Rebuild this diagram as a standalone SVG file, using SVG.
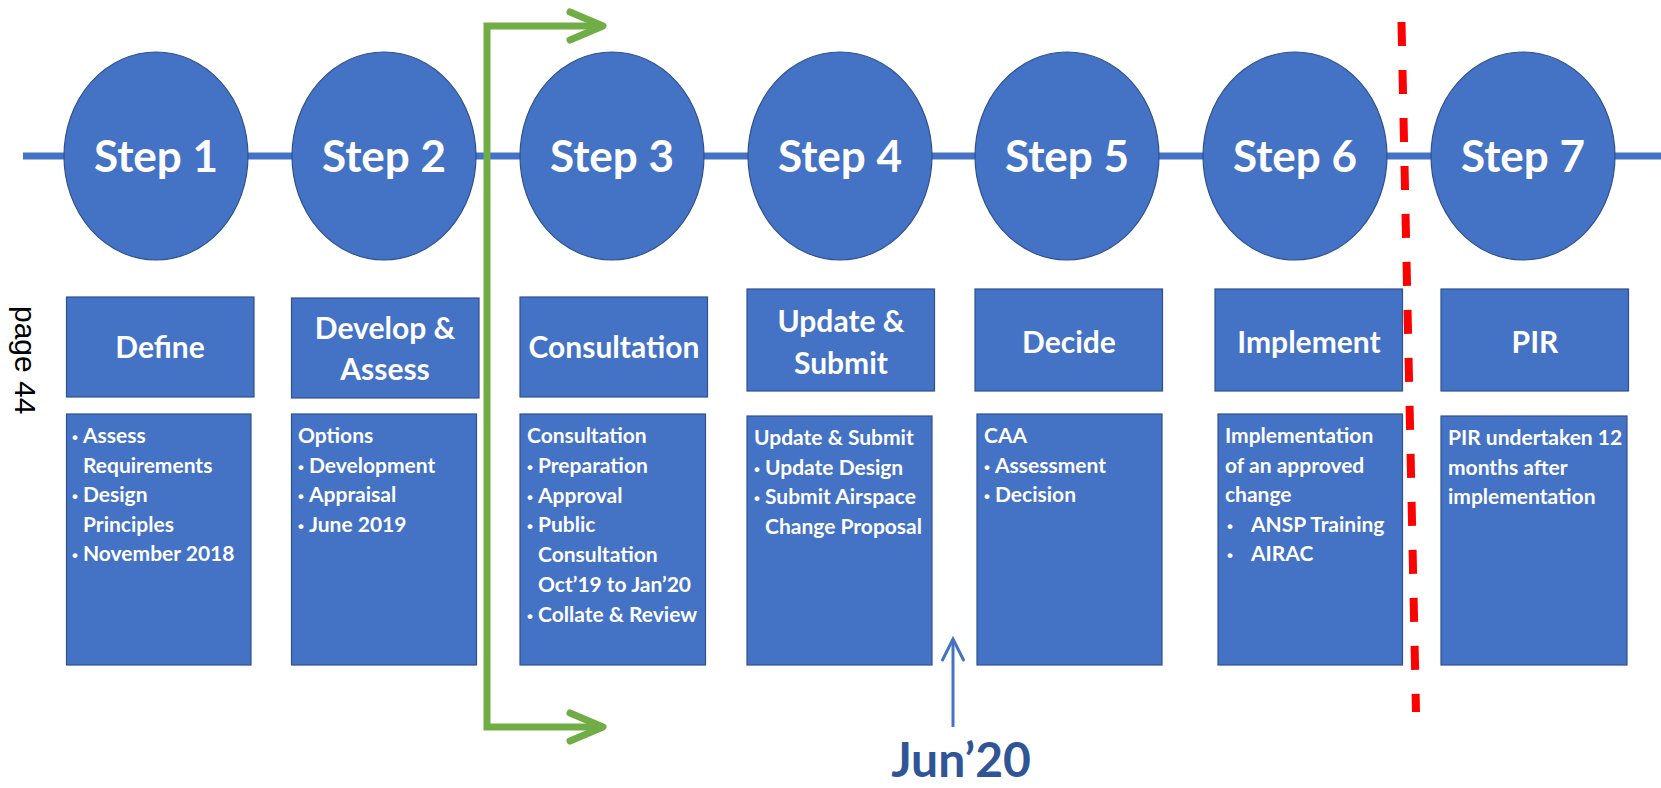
<svg xmlns="http://www.w3.org/2000/svg" width="1661" height="788" viewBox="0 0 1661 788">
<style>
.node{fill:#4472C4;stroke:#2F528F;stroke-width:1.2}
.step{font-family:Lato,"Liberation Sans",sans-serif;font-weight:bold;font-size:44px;fill:#fff;text-anchor:middle}
.title{font-family:Lato,"Liberation Sans",sans-serif;font-weight:bold;font-size:30px;fill:#fff;text-anchor:middle}
.det{font-family:Lato,"Liberation Sans",sans-serif;font-weight:bold;font-size:21px;fill:#fff}
.b{font-family:"Liberation Sans",Arial,sans-serif;font-size:17px;font-weight:bold}
.page{font-family:"Liberation Sans",Arial,sans-serif;font-size:30px;fill:#000}
.jun{font-family:Lato,"Liberation Sans",sans-serif;font-weight:bold;font-size:48px;fill:#2F5597;text-anchor:middle}
</style>
<defs>
<marker id="gArrow" markerUnits="userSpaceOnUse" viewBox="0 0 46 40" markerWidth="46" markerHeight="40" refX="35" refY="20" orient="auto-start-reverse" overflow="visible">
<path d="M5,6 L38,20 L5,34" fill="none" stroke="#70AD47" stroke-width="7" stroke-linecap="round" stroke-linejoin="round"/>
</marker>
<marker id="bArrow" markerUnits="userSpaceOnUse" viewBox="0 0 30 30" markerWidth="30" markerHeight="30" refX="24" refY="15" orient="auto" overflow="visible">
<path d="M3,4.5 L24,15 L3,25.5" fill="none" stroke="#4472C4" stroke-width="3" stroke-linecap="round"/>
</marker>
</defs>
<rect width="1661" height="788" fill="#fff"/>
<line x1="23" y1="156" x2="1661" y2="156" stroke="#4472C4" stroke-width="7"/>
<text class="page" transform="translate(15,306) rotate(90)">page 44</text>
<g id="step1"><ellipse class="node" cx="156" cy="156" rx="92" ry="104"/><text class="step" x="156" y="172">Step 1</text></g>
<g id="step2"><ellipse class="node" cx="384" cy="156" rx="92" ry="104"/><text class="step" x="384" y="172">Step 2</text></g>
<g id="step3"><ellipse class="node" cx="612" cy="156" rx="92" ry="104"/><text class="step" x="612" y="172">Step 3</text></g>
<g id="step4"><ellipse class="node" cx="840" cy="156" rx="92" ry="104"/><text class="step" x="840" y="172">Step 4</text></g>
<g id="step5"><ellipse class="node" cx="1067" cy="156" rx="92" ry="104"/><text class="step" x="1067" y="172">Step 5</text></g>
<g id="step6"><ellipse class="node" cx="1295" cy="156" rx="92" ry="104"/><text class="step" x="1295" y="172">Step 6</text></g>
<g id="step7"><ellipse class="node" cx="1523" cy="156" rx="92" ry="104"/><text class="step" x="1523" y="172">Step 7</text></g>

<g id="title1"><rect class="node" x="66.5" y="297" width="187.5" height="100"/><text class="title" x="160" y="358">Define</text></g>
<g id="title2"><rect class="node" x="291.5" y="298" width="187.5" height="100"/><text class="title" x="385" y="339">Develop &amp;</text><text class="title" x="385" y="380">Assess</text></g>
<g id="title3"><rect class="node" x="520" y="297" width="187.5" height="100"/><text class="title" x="614" y="358">Consultation</text></g>
<g id="title4"><rect class="node" x="747" y="289" width="187.5" height="102"/><text class="title" x="841" y="332">Update &amp;</text><text class="title" x="841" y="374">Submit</text></g>
<g id="title5"><rect class="node" x="975" y="289" width="187.5" height="102"/><text class="title" x="1069" y="353">Decide</text></g>
<g id="title6"><rect class="node" x="1215" y="289" width="187.5" height="102"/><text class="title" x="1309" y="353">Implement</text></g>
<g id="title7"><rect class="node" x="1441" y="289" width="187.5" height="102"/><text class="title" x="1535" y="353">PIR</text></g>

<g id="detail1"><rect class="node" x="66.5" y="414" width="184.5" height="251"/>
<text class="det"><tspan class="b" x="72" y="443">•</tspan><tspan x="83" y="443">Assess</tspan><tspan x="83" y="472.5">Requirements</tspan><tspan class="b" x="72" y="502">•</tspan><tspan x="83" y="502">Design</tspan><tspan x="83" y="531.5">Principles</tspan><tspan class="b" x="72" y="561">•</tspan><tspan x="83" y="561">November 2018</tspan></text></g>
<g id="detail2"><rect class="node" x="291.5" y="414" width="185" height="251"/>
<text class="det"><tspan x="298" y="443">Options</tspan><tspan class="b" x="298" y="472.5">•</tspan><tspan x="309" y="472.5">Development</tspan><tspan class="b" x="298" y="502">•</tspan><tspan x="309" y="502">Appraisal</tspan><tspan class="b" x="298" y="531.5">•</tspan><tspan x="309" y="531.5">June 2019</tspan></text></g>
<g id="detail3"><rect class="node" x="520" y="414" width="185.5" height="251"/>
<text class="det"><tspan x="527" y="443">Consultation</tspan><tspan class="b" x="527" y="472.8">•</tspan><tspan x="538" y="472.8">Preparation</tspan><tspan class="b" x="527" y="502.6">•</tspan><tspan x="538" y="502.6">Approval</tspan><tspan class="b" x="527" y="532.4">•</tspan><tspan x="538" y="532.4">Public</tspan><tspan x="538" y="562.2">Consultation</tspan><tspan x="538" y="592">Oct’19 to Jan’20</tspan><tspan class="b" x="527" y="621.8">•</tspan><tspan x="538" y="621.8">Collate &amp; Review</tspan></text></g>
<g id="detail4"><rect class="node" x="747" y="416" width="185" height="249"/>
<text class="det"><tspan x="754" y="445">Update &amp; Submit</tspan><tspan class="b" x="754" y="474.5">•</tspan><tspan x="765" y="474.5">Update Design</tspan><tspan class="b" x="754" y="504">•</tspan><tspan x="765" y="504">Submit Airspace</tspan><tspan x="765" y="533.5">Change Proposal</tspan></text></g>
<g id="detail5"><rect class="node" x="977" y="414" width="185" height="251"/>
<text class="det"><tspan x="984" y="443">CAA</tspan><tspan class="b" x="984" y="472.5">•</tspan><tspan x="995" y="472.5">Assessment</tspan><tspan class="b" x="984" y="502">•</tspan><tspan x="995" y="502">Decision</tspan></text></g>
<g id="detail6"><rect class="node" x="1218" y="414" width="184.5" height="251"/>
<text class="det"><tspan x="1225" y="443">Implementation</tspan><tspan x="1225" y="472.5">of an approved</tspan><tspan x="1225" y="502">change</tspan><tspan class="b" x="1227" y="531.5">•</tspan><tspan x="1251" y="531.5">ANSP Training</tspan><tspan class="b" x="1227" y="561">•</tspan><tspan x="1251" y="561">AIRAC</tspan></text></g>
<g id="detail7"><rect class="node" x="1441" y="416" width="186" height="249"/>
<text class="det"><tspan x="1448" y="445">PIR undertaken 12</tspan><tspan x="1448" y="474.5">months after</tspan><tspan x="1448" y="504">implementation</tspan></text></g>

<g id="connectors">
<path d="M600,26 H487 V727 H600" fill="none" stroke="#70AD47" stroke-width="7" marker-start="url(#gArrow)" marker-end="url(#gArrow)"/>
<path d="M953,727 V639" fill="none" stroke="#4472C4" stroke-width="3" marker-end="url(#bArrow)"/>
<line x1="1401.5" y1="22" x2="1416" y2="712" stroke="#FF0000" stroke-width="8" stroke-dasharray="24 24"/>
</g>
<text class="jun" x="961" y="777">Jun’20</text>
</svg>
